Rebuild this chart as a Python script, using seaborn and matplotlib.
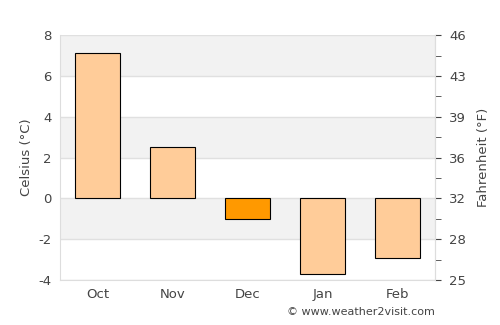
import numpy as np
import matplotlib
matplotlib.use('Agg')
import matplotlib.pyplot as plt
import seaborn as sns

months = ['Oct', 'Nov', 'Dec', 'Jan', 'Feb']
celsius = [7.1, 2.5, -1.0, -3.7, -2.9]
bar_colors = ['#ffcc99', '#ffcc99', '#ff9900', '#ffcc99', '#ffcc99']
c_ticks = [-4, -2, 0, 2, 4, 6, 8]
f_labels = ['25', '28', '32', '36', '39', '43', '46']

sns.set_style('white')
plt.rcParams['font.family'] = ['DejaVu Sans']

fig = plt.figure(figsize=(5, 3.25), dpi=100)
ax = fig.add_axes([0.12, 0.138, 0.75, 0.754])

# alternating bands
for lo in [-2, 2, 6]:
    ax.axhspan(lo, lo + 2, color='#f2f2f2', zorder=0, lw=0)
for t in c_ticks:
    ax.axhline(t, color='#e0e0e0', lw=1, zorder=0.5)

sns.barplot(x=months, y=celsius, hue=months, palette=bar_colors, legend=False,
            saturation=1, edgecolor='black', linewidth=0.8, width=0.6, ax=ax, zorder=2)

ax.set_ylim(-4, 8)
ax.set_xlim(-0.5, 4.5)
ax.set_yticks(c_ticks)
ax.set_yticklabels([str(t) for t in c_ticks])
ax.set_ylabel('Celsius (°C)', color='#444444', fontsize=9.5)
ax.set_xlabel('')
ax.tick_params(axis='both', colors='#444444', labelsize=9.5, length=0, pad=6)
for side in ['left', 'bottom', 'right']:
    ax.spines[side].set_color('#dddddd')
ax.spines['top'].set_visible(False)

ax2 = ax.twinx()
ax2.set_ylim(-4, 8)
ax2.set_yticks(c_ticks)
ax2.set_yticklabels(f_labels)
ax2.set_yticks([-3, -1, 1, 3, 5, 7], minor=True)
ax2.tick_params(axis='y', which='both', colors='#444444', labelsize=9.5, length=4, pad=6)
ax2.set_ylabel('Fahrenheit (°F)', color='#444444', fontsize=9.5, labelpad=8)
for side in ['left', 'bottom', 'top']:
    ax2.spines[side].set_visible(False)
ax2.spines['right'].set_color('#dddddd')

fig.text(0.87, 0.025, '© www.weather2visit.com', ha='right', va='bottom',
         fontsize=8, color='#444444')

fig.savefig('out.png', dpi=100)
